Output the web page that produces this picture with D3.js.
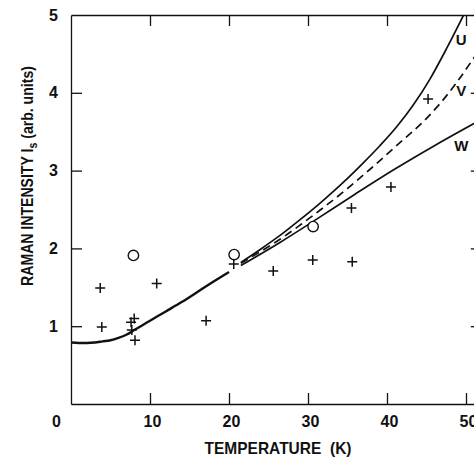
<!DOCTYPE html>
<html>
<head>
<meta charset="utf-8">
<script src="https://cdn.jsdelivr.net/npm/d3@7"></script>
<style>
  html, body { margin: 0; padding: 0; background: #fff; }
  svg { display: block; }
  text { fill: #111; }
</style>
</head>
<body>
<svg id="chart" width="474" height="457"></svg>
<script>
// Raman intensity vs temperature: measured points and model curves U, V, W.

// Shared low-temperature part of the model (all three curves coincide here)
const sharedT = [0, 1, 2, 3, 4, 5, 6, 7, 8, 9, 10, 12, 14, 16, 18, 19.9];
const sharedI = [0.79, 0.785, 0.785, 0.79, 0.805, 0.82, 0.85, 0.89, 0.95, 1.01, 1.07, 1.19, 1.31, 1.44, 1.57, 1.69];

// Branches above ~21 K
const uT = [21.5, 24, 26.5, 29, 31.5, 35, 37, 39.1, 41.2, 43.3, 45.4, 47.6, 49.7];
const uI = [1.82, 1.99, 2.17, 2.37, 2.58, 2.90, 3.10, 3.32, 3.56, 3.84, 4.17, 4.58, 5.00];
const vT = [21.5, 24, 26.5, 29, 31.5, 35, 38, 41.2, 44.6, 46.7, 48.8, 51, 52];
const vI = [1.81, 1.96, 2.12, 2.30, 2.49, 2.77, 3.03, 3.32, 3.63, 3.86, 4.13, 4.45, 4.60];
const wT = [21.5, 26.5, 31, 36, 41, 46, 52];
const wI = [1.78, 2.08, 2.37, 2.70, 3.02, 3.32, 3.66];

// Measured intensities (crosses)
const crossT = [3.7, 3.9, 10.85, 8.0, 7.6, 7.7, 8.1, 17.1, 20.6, 25.6, 30.6, 35.6, 35.5, 40.5, 45.2];
const crossI = [1.49, 0.99, 1.55, 1.10, 1.05, 0.95, 0.82, 1.07, 1.80, 1.71, 1.85, 1.83, 2.52, 2.79, 3.92];

// Measured intensities (open circles)
const circleT = [7.9, 20.65, 30.65];
const circleI = [1.91, 1.92, 2.28];

// Curve labels
const curveNames = ["U", "V", "W"];
const curveLabelT = [49.4, 49.4, 49.4];
const curveLabelI = [4.68, 4.03, 3.32];

// Axis ticks
const xTicks = [0, 10, 20, 30, 40, 50];
const yTicks = [1, 2, 3, 4, 5];
const xLabel = "TEMPERATURE  (K)";

const svg = d3.select("#chart");
const ink = "#111";
const font = "'Liberation Sans', Arial, sans-serif";

const x = d3.scaleLinear().domain([0, 52]).range([71, 481.8]);
const y = d3.scaleLinear().domain([0, 5]).range([404, 15]);

const zip = (a, b) => a.map((v, i) => [v, b[i]]);

// Clip for the plotting area
svg.append("defs").append("clipPath").attr("id", "plot")
  .append("rect")
  .attr("x", x(0)).attr("y", y(5))
  .attr("width", x(52) - x(0)).attr("height", y(0) - y(5));

// Axes (frame with inward ticks)
function styleAxis(g) {
  g.selectAll("path.domain").attr("stroke", ink).attr("stroke-width", 1.3);
  g.selectAll(".tick line").attr("stroke", ink).attr("stroke-width", 1.3);
  g.selectAll(".tick text")
    .attr("fill", ink)
    .style("font-family", font)
    .style("font-weight", "bold")
    .style("font-size", "16px");
}

const gBottom = svg.append("g")
  .attr("transform", `translate(0,${y(0)})`)
  .call(d3.axisBottom(x).tickValues(xTicks).tickSizeInner(-11).tickSizeOuter(0)
    .tickPadding(12).tickFormat(d3.format("d")))
  .call(styleAxis);
gBottom.selectAll(".tick").filter(d => d === 0).select("line").remove();
gBottom.selectAll(".tick text").attr("dx", d => d === 0 ? -15 : 2);

const gLeft = svg.append("g")
  .attr("transform", `translate(${x(0)},0)`)
  .call(d3.axisLeft(y).tickValues(yTicks).tickSizeInner(-11).tickSizeOuter(0)
    .tickPadding(13).tickFormat(d3.format("d")))
  .call(styleAxis);
gLeft.selectAll(".tick").filter(d => d === 5).select("line").remove();

svg.append("g")
  .attr("transform", `translate(0,${y(5)})`)
  .call(d3.axisTop(x).tickValues(xTicks.filter(d => d > 0)).tickSizeInner(-11).tickSizeOuter(0).tickFormat(""))
  .call(styleAxis);

svg.append("g")
  .attr("transform", `translate(${x(52)},0)`)
  .call(d3.axisRight(y).tickValues(yTicks.filter(d => d < 5)).tickSizeInner(-11).tickSizeOuter(0).tickFormat(""))
  .call(styleAxis);

// Model curves
const line = d3.line()
  .x(d => x(d[0]))
  .y(d => y(d[1]))
  .curve(d3.curveMonotoneX);

const curves = svg.append("g").attr("clip-path", "url(#plot)");

curves.append("path")
  .datum(zip(sharedT, sharedI))
  .attr("d", line)
  .attr("fill", "none")
  .attr("stroke", ink)
  .attr("stroke-width", 2.4)
  .attr("stroke-linecap", "round");

const branches = [
  { data: zip(uT, uI), dash: null },
  { data: zip(vT, vI), dash: "8,5" },
  { data: zip(wT, wI), dash: null }
];

curves.selectAll("path.branch")
  .data(branches)
  .join("path")
  .attr("class", "branch")
  .attr("d", d => line(d.data))
  .attr("fill", "none")
  .attr("stroke", ink)
  .attr("stroke-width", 1.7)
  .attr("stroke-dasharray", d => d.dash);

// Curve labels
svg.selectAll("text.curve-label")
  .data(curveNames)
  .join("text")
  .attr("class", "curve-label")
  .attr("x", (d, i) => x(curveLabelT[i]))
  .attr("y", (d, i) => y(curveLabelI[i]))
  .attr("text-anchor", "middle")
  .attr("dominant-baseline", "central")
  .style("font-family", font)
  .style("font-weight", "bold")
  .style("font-size", "15px")
  .text(d => d);

// Crosses
const cs = 5;
svg.append("g").selectAll("path.cross")
  .data(zip(crossT, crossI))
  .join("path")
  .attr("class", "cross")
  .attr("d", d => {
    const px = x(d[0]), py = y(d[1]);
    return `M${px - cs},${py}H${px + cs}M${px},${py - cs}V${py + cs}`;
  })
  .attr("stroke", ink)
  .attr("stroke-width", 1.5)
  .attr("fill", "none");

// Open circles
svg.append("g").selectAll("circle")
  .data(zip(circleT, circleI))
  .join("circle")
  .attr("cx", d => x(d[0]))
  .attr("cy", d => y(d[1]))
  .attr("r", 5.2)
  .attr("fill", "#fff")
  .attr("stroke", ink)
  .attr("stroke-width", 1.4);

// Axis titles (tall, slightly condensed lettering)
svg.append("text")
  .attr("x", 278)
  .attr("y", 454)
  .attr("text-anchor", "middle")
  .attr("textLength", 147)
  .attr("lengthAdjust", "spacingAndGlyphs")
  .style("white-space", "pre")
  .style("font-family", font)
  .style("font-weight", "bold")
  .style("font-size", "16.5px")
  .text(xLabel);

const yTitle = svg.append("text")
  .attr("transform", "translate(33,176) rotate(-90) scale(0.88,1)")
  .attr("text-anchor", "middle")
  .style("font-family", font)
  .style("font-weight", "bold")
  .style("font-size", "16px");
yTitle.append("tspan").text("RAMAN INTENSITY I");
yTitle.append("tspan").attr("dy", 4).style("font-size", "12px").text("s");
yTitle.append("tspan").attr("dy", -4).text(" (arb. units)");
</script>
</body>
</html>
